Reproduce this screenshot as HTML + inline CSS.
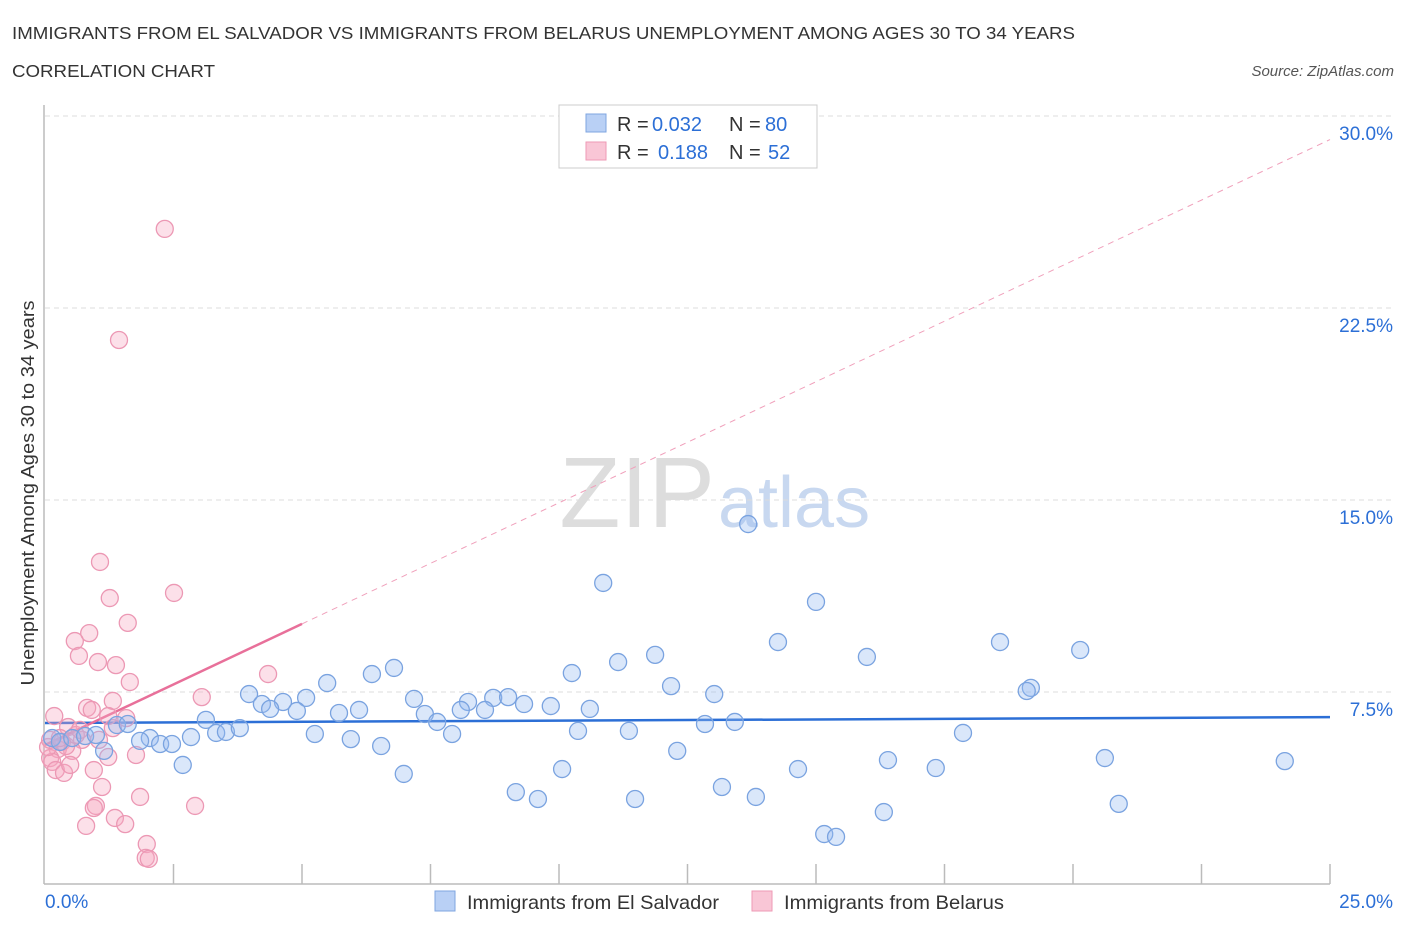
<!DOCTYPE html>
<html><head><meta charset="utf-8">
<style>
body{margin:0;background:#fff;font-family:"Liberation Sans",sans-serif;}
svg text{font-family:"Liberation Sans",sans-serif;}
</style></head>
<body>
<svg id="chart" width="1406" height="930" xmlns="http://www.w3.org/2000/svg">
<text x="12" y="39" font-size="17.5" fill="#333" textLength="1063" lengthAdjust="spacingAndGlyphs">IMMIGRANTS FROM EL SALVADOR VS IMMIGRANTS FROM BELARUS UNEMPLOYMENT AMONG AGES 30 TO 34 YEARS</text>
<text x="12" y="77" font-size="17.5" fill="#333" textLength="203" lengthAdjust="spacingAndGlyphs">CORRELATION CHART</text>
<text x="1394" y="76" font-size="15" fill="#555" text-anchor="end" font-style="italic">Source: ZipAtlas.com</text>
<text x="715" y="527" font-size="100" text-anchor="end" fill="#ddd" font-family="Liberation Serif">ZIP</text>
<text x="718" y="527" font-size="72" fill="#c8d8f0">atlas</text>
<g id="grid"></g>
<g id="axes"></g>
<g id="lines"></g>
<g id="pts"></g>
<text transform="translate(34,493) rotate(-90)" font-size="18" fill="#333" text-anchor="middle" textLength="385" lengthAdjust="spacingAndGlyphs">Unemployment Among Ages 30 to 34 years</text>
<g font-size="20">
<rect x="559" y="105" width="258" height="63" fill="#fff" stroke="#ccc"/>
<rect x="586" y="114" width="20" height="18" fill="#b9d0f5" stroke="#7fa6e0"/>
<rect x="586" y="142" width="20" height="18" fill="#f9c6d6" stroke="#ee9ab5"/>
<text x="617" y="131" fill="#333">R =</text><text x="652" y="131" fill="#2c6fd6">0.032</text>
<text x="729" y="131" fill="#333">N =</text><text x="765" y="131" fill="#2c6fd6">80</text>
<text x="617" y="159" fill="#333">R =</text><text x="658" y="159" fill="#2c6fd6">0.188</text>
<text x="729" y="159" fill="#333">N =</text><text x="768" y="159" fill="#2c6fd6">52</text>
</g>
<g font-size="19.5">
<rect x="435" y="891" width="20" height="20" fill="#b9d0f5" stroke="#7fa6e0"/>
<text x="467" y="909" fill="#333" textLength="252" lengthAdjust="spacingAndGlyphs">Immigrants from El Salvador</text>
<rect x="752" y="891" width="20" height="20" fill="#f9c6d6" stroke="#ee9ab5"/>
<text x="784" y="909" fill="#333" textLength="220" lengthAdjust="spacingAndGlyphs">Immigrants from Belarus</text>
</g>
</svg>
<script>
const yTicks=[7.5,15,22.5,30];
const yTickLabels=["7.5%","15.0%","22.5%","30.0%"];
const xTickLabels=["0.0%","25.0%"];
const blueX=[13.68,10.86,15.0,14.26,18.58,20.14,15.99,11.87,11.15,10.25,6.79,6.36,5.49,12.18,13.02,19.18,19.10,3.97,5.08,4.63,4.22,4.38,4.90,7.18,8.23,8.72,9.01,9.32,9.84,10.60,8.09,8.56,5.72,6.11,7.39,7.63,3.13,1.40,1.61,12.84,13.42,5.25,7.92,10.37,11.36,17.86,3.33,3.52,3.79,2.84,2.04,1.85,2.24,2.47,5.95,6.54,1.15,12.30,20.62,16.40,24.12,2.68,6.98,10.06,14.65,17.33,13.17,9.16,9.59,11.48,13.83,20.89,16.32,15.16,15.39,0.14,0.29,0.53,0.78,0.99];
const blueY=[14.06,11.76,11.02,9.45,9.45,9.14,8.87,8.95,8.67,8.24,8.44,8.20,7.85,7.73,7.42,7.66,7.54,7.42,7.27,7.11,7.03,6.84,6.76,7.23,7.11,7.27,7.30,7.03,6.95,6.84,6.80,6.80,6.68,6.80,6.64,6.33,6.41,6.21,6.25,6.25,6.33,5.86,5.86,5.98,5.98,5.90,5.90,5.94,6.09,5.74,5.70,5.59,5.47,5.47,5.66,5.39,5.20,5.20,4.92,4.84,4.80,4.65,4.30,4.49,4.49,4.53,3.79,3.59,3.32,3.32,3.40,3.13,2.81,1.95,1.84,5.70,5.55,5.70,5.78,5.82];
const pinkX=[2.33,1.44,1.07,2.51,1.26,1.61,0.86,0.58,0.66,1.03,1.38,4.34,1.65,3.05,1.32,0.82,0.91,0.18,1.23,1.58,0.45,1.32,1.05,0.33,0.72,0.25,0.53,1.77,1.23,0.10,0.14,0.21,0.37,0.95,0.49,1.11,1.85,0.99,0.95,2.92,1.36,1.56,0.80,1.98,1.96,2.02,0.06,0.10,0.41,0.60,0.68,0.29];
const pinkY=[25.59,21.25,12.58,11.37,11.17,10.20,9.80,9.49,8.91,8.67,8.55,8.20,7.89,7.30,7.15,6.88,6.80,6.56,6.56,6.48,6.13,6.09,5.63,5.55,5.63,5.27,5.20,5.04,4.96,4.92,4.77,4.45,4.34,4.45,4.65,3.79,3.40,3.05,2.97,3.05,2.58,2.34,2.27,1.56,1.02,0.98,5.35,5.63,5.39,5.82,6.02,5.70];
const blueTrend=[6.29,6.52];
const pinkTrend=[5.43,0.946];
const NS="http://www.w3.org/2000/svg";
const X0=45,X1=1330,Y0=884,PY=192/7.5;
const sx=v=>X0+(X1-X0)*v/25;
const sy=v=>Y0-v*PY;
function mk(t,a,p){const e=document.createElementNS(NS,t);for(const k in a)e.setAttribute(k,a[k]);document.getElementById(p).appendChild(e);return e;}
yTicks.forEach((v,i)=>{
 const l=mk('line',{x1:X0,x2:1394,y1:sy(v),y2:sy(v),stroke:'#ddd','stroke-dasharray':'5,4'},'grid');
 
 
 const t=mk('text',{x:1393,y:sy(v)+24,'font-size':19,fill:'#2c6fd6','text-anchor':'end'},'axes');
 t.textContent=yTickLabels[i];
 
 
});
let ax=mk('line',{x1:X0-1,x2:X0-1,y1:105,y2:884,stroke:'#bbb','stroke-width':1.5},'axes');


ax=mk('line',{x1:X0-1,x2:X1,y1:884,y2:884,stroke:'#bbb','stroke-width':1.5},'axes');


for(let i=1;i<=10;i++){const tk=mk('line',{x1:sx(i*2.5),x2:sx(i*2.5),y1:864,y2:884,stroke:'#bbb','stroke-width':1.5},'axes');
 
 }
let t=mk('text',{x:45,y:908,'font-size':19,fill:'#2c6fd6'},'axes');t.textContent=xTickLabels[0];


t=mk('text',{x:1393,y:908,'font-size':19,fill:'#2c6fd6','text-anchor':'end'},'axes');t.textContent=xTickLabels[1];


function pt(xs,ys,fill,stroke,name){xs.forEach((x,i)=>{const c=mk('circle',{cx:sx(x),cy:sy(ys[i]),r:8.5,fill:fill,stroke:stroke,'stroke-width':1.3},'pts');
 
 });}
pt(pinkX,pinkY,'rgba(245,165,192,0.35)','#ec98b4','belarus-point');
pt(blueX,blueY,'rgba(150,185,240,0.35)','#7aa3e0','el-salvador-point');
let ln=mk('line',{x1:sx(0),y1:sy(blueTrend[0]),x2:sx(25),y2:sy(blueTrend[1]),stroke:'#2c6fd6','stroke-width':2.5},'lines');


const pf=x=>pinkTrend[0]+pinkTrend[1]*x;
ln=mk('line',{x1:sx(5),y1:sy(pf(5)),x2:sx(25),y2:sy(pf(25)),stroke:'#f0a0bb','stroke-width':1,'stroke-dasharray':'6,5'},'lines');


ln=mk('line',{x1:sx(0),y1:sy(pf(0)),x2:sx(5),y2:sy(pf(5)),stroke:'#e8709a','stroke-width':2.5},'lines');


</script>
</body></html>
